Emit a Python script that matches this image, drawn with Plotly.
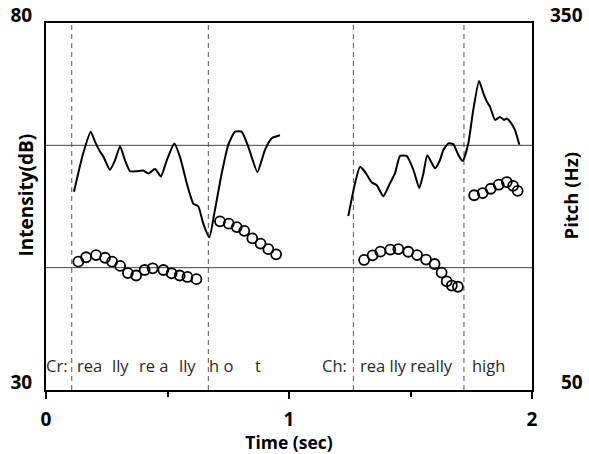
import plotly.graph_objects as go

# Intensity (dB) contours
int1_t = [0.115, 0.153, 0.184, 0.202, 0.222, 0.236, 0.263, 0.284, 0.305, 0.325, 0.346, 0.373,
          0.400, 0.421, 0.449, 0.473, 0.497, 0.528, 0.551, 0.579, 0.593, 0.606, 0.627, 0.647,
          0.672, 0.695, 0.723, 0.750, 0.778, 0.805, 0.833, 0.870, 0.901, 0.929, 0.963]
int1_db = [57.0, 62.25, 65.2, 63.8, 62.5, 61.8, 60.0, 61.3, 63.2, 61.3, 59.8, 59.8,
           59.9, 59.5, 60.1, 59.1, 61.3, 63.6, 61.8, 58.2, 56.6, 55.4, 55.0, 52.7,
           50.8, 54.5, 59.5, 63.4, 65.2, 65.2, 63.1, 59.7, 62.7, 64.3, 64.7]
int2_t = [1.244, 1.272, 1.292, 1.313, 1.340, 1.361, 1.388, 1.416, 1.436, 1.457, 1.484, 1.512,
          1.536, 1.553, 1.569, 1.601, 1.621, 1.635, 1.656, 1.676, 1.697, 1.715, 1.738, 1.758,
          1.782, 1.800, 1.814, 1.827, 1.848, 1.868, 1.885, 1.896, 1.909, 1.930, 1.948]
int2_db = [53.7, 58.2, 60.4, 59.7, 58.3, 57.9, 56.4, 58.2, 59.5, 61.9, 61.9, 60.0,
           57.5, 59.5, 62.0, 60.2, 61.3, 62.7, 63.6, 63.5, 62.0, 61.2, 63.6, 68.1,
           72.1, 70.4, 69.3, 68.6, 66.8, 67.2, 66.8, 67.0, 66.6, 65.4, 63.4]

# Pitch (Hz) points
p1_t = [0.133, 0.165, 0.206, 0.243, 0.272, 0.305, 0.337, 0.371, 0.406, 0.439, 0.483, 0.517, 0.550, 0.582, 0.619]
p1_hz = [154.9, 158.5, 160.3, 158.1, 154.9, 151.4, 145.6, 143.6, 148.1, 149.5, 148.1, 145.4, 143.6, 142.4, 140.6]
p2_t = [0.716, 0.752, 0.785, 0.816, 0.849, 0.883, 0.915, 0.947]
p2_hz = [187.9, 186.0, 183.2, 180.1, 174.0, 169.7, 165.1, 160.9]
p3_t = [1.309, 1.344, 1.376, 1.417, 1.450, 1.491, 1.527, 1.564, 1.599, 1.628, 1.649, 1.670, 1.695]
p3_hz = [156.3, 160.1, 163.1, 164.8, 165.2, 163.0, 160.3, 156.6, 153.0, 146.0, 138.8, 135.4, 134.4]
p4_t = [1.762, 1.797, 1.830, 1.863, 1.896, 1.922, 1.941]
p4_hz = [209.2, 211.0, 214.5, 217.8, 220.0, 216.9, 212.8]

# Segment boundaries (sec) and reference pitch levels (Hz)
boundaries = [0.106, 0.668, 1.265, 1.720]
ref_pitch = [250, 150]

# Word labels (start time in sec)
word_labels = ["Cr:", "rea", "lly", "re a", "lly", "h o", "t", "Ch:", "rea lly really", "high"]
word_starts = [0.0, 0.128, 0.272, 0.383, 0.547, 0.671, 0.860, 1.135, 1.292, 1.752]

x_ticks = [0, 1, 2]
int_range = [30, 80]
pitch_range = [50, 350]

BOLD = "Open Sans"
fig = go.Figure()

line_style = dict(color="black", width=2, shape="spline", smoothing=0.5)
for t, v in [(int1_t, int1_db), (int2_t, int2_db)]:
    fig.add_trace(go.Scatter(x=t, y=v, mode="lines", line=line_style, yaxis="y",
                             showlegend=False, hoverinfo="skip"))

marker_style = dict(symbol="circle-open", size=10, color="black", line=dict(width=1.8))
for t, v in [(p1_t, p1_hz), (p2_t, p2_hz), (p3_t, p3_hz), (p4_t, p4_hz)]:
    fig.add_trace(go.Scatter(x=t, y=v, mode="markers", marker=marker_style, yaxis="y2",
                             showlegend=False, hoverinfo="skip"))

for b in boundaries:
    fig.add_shape(type="line", xref="x", yref="paper", x0=b, x1=b, y0=0, y1=1,
                  line=dict(color="#555555", width=1, dash="5px,4px"), layer="below")
for h in ref_pitch:
    fig.add_shape(type="line", xref="paper", yref="y2", x0=0, x1=1, y0=h, y1=h,
                  line=dict(color="#444444", width=1), layer="below")

for lbl, x in zip(word_labels, word_starts):
    fig.add_annotation(x=x, y=33.4, xref="x", yref="y", text=lbl, showarrow=False,
                       xanchor="left", yanchor="middle", xshift=-2,
                       font=dict(family="Open Sans", size=16.5, color="#2a2a2a"))

# right-axis corner labels
fig.add_annotation(x=1, y=1, xref="paper", yref="paper", text=str(pitch_range[1]), showarrow=False,
                   xanchor="right", yanchor="middle", xshift=53, yshift=8,
                   font=dict(family=BOLD, size=19, color="black", weight="bold"))
fig.add_annotation(x=1, y=0, xref="paper", yref="paper", text=str(pitch_range[0]), showarrow=False,
                   xanchor="right", yanchor="middle", xshift=53, yshift=8,
                   font=dict(family=BOLD, size=19, color="black", weight="bold"))
# axis titles
fig.add_annotation(x=0, y=0.53, xref="paper", yref="paper", text="Intensity(dB)", showarrow=False,
                   textangle=-90, xanchor="center", yanchor="middle", xshift=-20,
                   font=dict(family=BOLD, size=19, color="black", weight="bold"))
fig.add_annotation(x=1, y=0.53, xref="paper", yref="paper", text="Pitch (Hz)", showarrow=False,
                   textangle=-90, xanchor="center", yanchor="middle", xshift=38,
                   font=dict(family=BOLD, size=18.5, color="black", weight="bold"))

fig.update_layout(
    width=589, height=454,
    margin=dict(l=46, r=57, t=23, b=64, autoexpand=False),
    plot_bgcolor="white", paper_bgcolor="white",
    xaxis=dict(range=[0, 2], tickvals=x_ticks, ticks="outside", ticklen=7, tickwidth=2,
               tickcolor="black", showline=True, linecolor="black", linewidth=2, mirror=True,
               showgrid=False, zeroline=False, ticklabelstandoff=4, automargin=False,
               minor=dict(tickvals=[0.5, 1.5], ticks="outside", ticklen=5, tickwidth=2, tickcolor="black"),
               tickfont=dict(family=BOLD, size=19, color="black", weight="bold"),
               title=dict(text="Time (sec)", standoff=1,
                          font=dict(family=BOLD, size=17.5, color="black", weight="bold"))),
    yaxis=dict(range=int_range, tickvals=int_range, ticks="", showline=True, linecolor="black",
               linewidth=2, mirror=True, showgrid=False, zeroline=False, automargin=False,
               ticklabelstandoff=8, ticklabelshift=-8,
               tickfont=dict(family=BOLD, size=19, color="black", weight="bold")),
    yaxis2=dict(range=pitch_range, overlaying="y", side="right", showticklabels=False, ticks="",
                showgrid=False, zeroline=False, showline=False, automargin=False),
)

fig.write_html("out.html")
